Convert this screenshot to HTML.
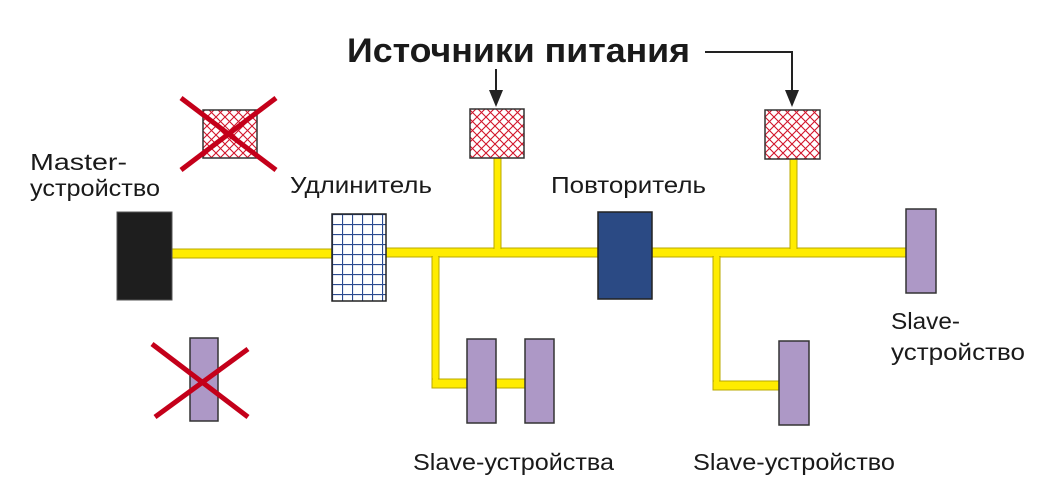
<!DOCTYPE html>
<html><head><meta charset="utf-8"><style>
html,body{margin:0;padding:0;background:#fff;}
svg{display:block;}
text{font-family:"Liberation Sans",sans-serif;fill:#1a1a1a;}
</style></head><body>
<svg width="1054" height="500" viewBox="0 0 1054 500" xmlns="http://www.w3.org/2000/svg">
<defs>
<pattern id="red" width="9" height="9" patternUnits="userSpaceOnUse">
<rect width="9" height="9" fill="#fff"/>
<path d="M0 0L9 9M9 0L0 9" stroke="#d2142a" stroke-width="1.1"/>
</pattern>
<pattern id="blue" width="10" height="10" patternUnits="userSpaceOnUse" x="332" y="214">
<rect width="10" height="10" fill="#fff"/>
<path d="M0 0H10M0 0V10" stroke="#2a4a90" stroke-width="2.2"/>
</pattern>
</defs>
<g fill="#ffec00" stroke="#b8a800" stroke-width="1">
<rect x="172" y="249" width="162" height="9"/>
<rect x="386" y="248" width="522" height="9"/>
<rect x="494" y="158" width="7" height="92"/>
<rect x="790" y="159" width="7" height="91"/>
<rect x="432" y="256" width="7" height="132"/>
<rect x="432" y="379" width="94" height="9"/>
<rect x="713" y="256" width="7" height="134"/>
<rect x="713" y="381" width="66" height="9"/>
</g>
<g fill="#ffec00">
<rect x="387" y="249" width="130" height="7"/>
<rect x="433" y="249" width="5" height="138"/>
<rect x="433" y="380" width="92" height="7"/>
<rect x="495" y="159" width="5" height="96"/>
<rect x="652" y="249" width="250" height="7"/>
<rect x="714" y="249" width="5" height="140"/>
<rect x="714" y="382" width="64" height="7"/>
<rect x="791" y="160" width="5" height="95"/>
</g>
<rect x="117" y="212" width="55" height="88" fill="#1e1e1e" stroke="#555" stroke-width="1"/>
<rect x="332" y="214" width="54" height="87" fill="url(#blue)" stroke="#222" stroke-width="1.5"/>
<rect x="598" y="212" width="54" height="87" fill="#2b4a84" stroke="#222" stroke-width="1.5"/>
<g fill="#ad98c6" stroke="#333" stroke-width="1.5">
<rect x="467" y="339" width="29" height="84"/>
<rect x="525" y="339" width="29" height="84"/>
<rect x="779" y="341" width="30" height="84"/>
<rect x="906" y="209" width="30" height="84"/>
<rect x="190" y="338" width="28" height="83"/>
</g>
<g fill="url(#red)" stroke="#333" stroke-width="1.5">
<rect x="470" y="109" width="54" height="49"/>
<rect x="765" y="110" width="55" height="49"/>
<rect x="203" y="110" width="54" height="48"/>
</g>
<g stroke="#c4001a" stroke-width="5">
<line x1="181" y1="98" x2="276" y2="170"/>
<line x1="276" y1="98" x2="181" y2="170"/>
<line x1="152" y1="344" x2="248" y2="417"/>
<line x1="248" y1="349" x2="155" y2="417"/>
</g>
<g stroke="#222" stroke-width="2" fill="none">
<line x1="496" y1="69" x2="496" y2="92"/>
<polyline points="705,52 792,52 792,92"/>
</g>
<g fill="#222">
<polygon points="489,90 503,90 496,107"/>
<polygon points="785,90 799,90 792,107"/>
</g>
<text x="347" y="62" font-size="34" font-weight="bold" textLength="343" lengthAdjust="spacingAndGlyphs">Источники питания</text>
<g font-size="23">
<text x="30" y="170" textLength="97" lengthAdjust="spacingAndGlyphs">Master-</text>
<text x="30" y="196" textLength="130" lengthAdjust="spacingAndGlyphs">устройство</text>
<text x="290" y="193" textLength="142" lengthAdjust="spacingAndGlyphs">Удлинитель</text>
<text x="551" y="193" textLength="155" lengthAdjust="spacingAndGlyphs">Повторитель</text>
<text x="891" y="329" textLength="69" lengthAdjust="spacingAndGlyphs">Slave-</text>
<text x="891" y="360" textLength="134" lengthAdjust="spacingAndGlyphs">устройство</text>
<text x="413" y="470" textLength="201" lengthAdjust="spacingAndGlyphs">Slave-устройства</text>
<text x="693" y="470" textLength="202" lengthAdjust="spacingAndGlyphs">Slave-устройство</text>
</g>
</svg>
</body></html>
